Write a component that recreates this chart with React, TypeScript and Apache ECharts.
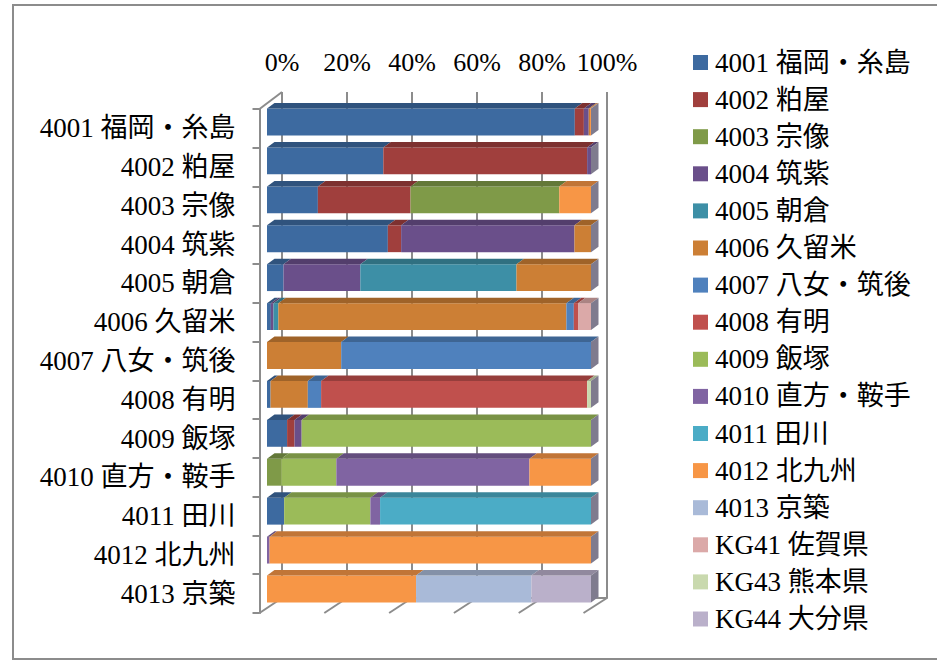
import React, { useEffect, useRef } from "react";
import * as echarts from "echarts";

const categories = [
  "4001 福岡・糸島", "4002 粕屋", "4003 宗像", "4004 筑紫", "4005 朝倉",
  "4006 久留米", "4007 八女・筑後", "4008 有明", "4009 飯塚",
  "4010 直方・鞍手", "4011 田川", "4012 北九州", "4013 京築",
];
const seriesNames = [...categories, "KG41 佐賀県", "KG43 熊本県", "KG44 大分県"];
const xTickLabels = ["0%", "20%", "40%", "60%", "80%", "100%"];

// values (%) per category, top to bottom
const s4001 = [95.0, 35.9, 15.7, 37.3, 5.1, 1.2, 0, 1.1, 6.2, 0, 5.3, 0, 0];
const s4002 = [2.8, 62.9, 28.6, 4.1, 0, 0, 0, 0, 2.3, 0, 0, 0, 0];
const s4003 = [0, 0, 45.9, 0, 0, 0, 0, 0, 0, 4.4, 0, 0, 0];
const s4004 = [1.5, 1.2, 0, 53.5, 23.7, 0.8, 0, 0, 2.2, 0, 0, 0, 0];
const s4005 = [0, 0, 0, 0, 48.2, 1.5, 0, 0, 0, 0, 0, 0, 0];
const s4006 = [0.4, 0, 0, 5.1, 23.0, 88.9, 22.9, 11.5, 0, 0, 0, 0, 0];
const s4007 = [0, 0, 0, 0, 0, 2.3, 77.1, 4.1, 0, 0, 0, 0, 0];
const s4008 = [0, 0, 0, 0, 0, 1.3, 0, 82.1, 0, 0, 0, 0, 0];
const s4009 = [0, 0, 0, 0, 0, 0, 0, 0, 89.3, 17.0, 26.6, 0, 0];
const s4010 = [0, 0, 0, 0, 0, 0, 0, 0, 0, 59.6, 3.0, 0.8, 0];
const s4011 = [0, 0, 0, 0, 0, 0, 0, 0, 0, 0, 65.1, 0, 0];
const s4012 = [0.3, 0, 9.8, 0, 0, 0, 0, 0, 0, 19.0, 0, 99.2, 46.0];
const s4013 = [0, 0, 0, 0, 0, 0, 0, 0, 0, 0, 0, 0, 35.6];
const sKG41 = [0, 0, 0, 0, 0, 4.0, 0, 0, 0, 0, 0, 0, 0];
const sKG43 = [0, 0, 0, 0, 0, 0, 0, 1.2, 0, 0, 0, 0, 0];
const sKG44 = [0, 0, 0, 0, 0, 0, 0, 0, 0, 0, 0, 0, 18.4];

const seriesValues = [
  s4001, s4002, s4003, s4004, s4005, s4006, s4007, s4008,
  s4009, s4010, s4011, s4012, s4013, sKG41, sKG43, sKG44,
];
const seriesColors = [
  "#3d6aa0", "#a03f3d", "#7f9a48", "#6a4f8a", "#3d8fa6", "#cc7f35",
  "#4f81bd", "#c0504d", "#9bbb59", "#8064a2", "#4bacc6", "#f79646",
  "#a9bad8", "#dba9a8", "#c9d9ae", "#bab0ca",
];

const FONT = '"Liberation Serif", "Noto Sans CJK JP", serif';
const GRAY = "#8c8c8c";
const FRONT = { left: 267, top: 102.5, width: 324, height: 506 };
const WALL = { left: 259.5, top: 109, width: 324, height: 504 };
const BACK = { left: 282, top: 92, width: 325, height: 506 };
const DX = 7.5;
const DY = 5.5;

function darken(hex: string, f: number) {
  const n = parseInt(hex.slice(1), 16);
  const r = Math.round(((n >> 16) & 255) * f);
  const g = Math.round(((n >> 8) & 255) * f);
  const b = Math.round((n & 255) * f);
  return `rgb(${r},${g},${b})`;
}

export default function App() {
  const ref = useRef<HTMLDivElement>(null);
  useEffect(() => {
    if (!ref.current) return;
    const chart = echarts.init(ref.current, undefined, { renderer: "svg" });
    const cum = categories.map(() => 0);
    const series = seriesValues.map((vals, si) => {
      const data: number[][] = [];
      vals.forEach((v, ci) => {
        const start = cum[ci];
        const end = start + v;
        cum[ci] = end;
        if (v > 0) data.push([start, end, ci, v]);
      });
      const color = seriesColors[si];
      return {
        type: "custom",
        name: seriesNames[si],
        xAxisIndex: 0,
        yAxisIndex: 0,
        itemStyle: { color },
        encode: { x: [0, 1], y: 2 },
        data,
        renderItem: (_p: any, api: any) => {
          const start = api.value(0);
          const end = api.value(1);
          const cat = api.value(2);
          const p0 = api.coord([start, cat]);
          const p1 = api.coord([end, cat]);
          const h = api.size([0, 1])[1] * 0.69;
          const x0 = p0[0];
          const x1 = p1[0];
          const yt = p0[1] - h / 2;
          const yb = p0[1] + h / 2;
          const children: any[] = [
            { type: "rect", shape: { x: x0, y: yt, width: x1 - x0, height: h }, style: { fill: color } },
            {
              type: "polygon",
              shape: { points: [[x0, yt], [x1, yt], [x1 + DX, yt - DY], [x0 + DX, yt - DY]] },
              style: { fill: darken(color, 0.78) },
            },
          ];
          if (end >= 99.9) {
            children.push({
              type: "polygon",
              shape: { points: [[x1, yt], [x1 + DX, yt - DY], [x1 + DX, yb - DY], [x1, yb]] },
              style: { fill: "#7f7b8e" },
            });
          }
          return { type: "group", children };
        },
      };
    });

    const floorLines: any[] = [];
    for (let k = 0; k <= 5; k++) {
      floorLines.push({
        type: "line",
        shape: {
          x1: WALL.left + (k * WALL.width) / 5,
          y1: WALL.top + WALL.height,
          x2: BACK.left + (k * BACK.width) / 5,
          y2: BACK.top + BACK.height,
        },
        style: { stroke: GRAY, lineWidth: 2 },
        z: -1,
      });
    }

    chart.setOption({
      animation: false,
      backgroundColor: "#fff",
      textStyle: { fontFamily: FONT },
      graphic: [
        {
          type: "rect",
          shape: { x: 13, y: 5, width: 960, height: 654 },
          style: { fill: "none", stroke: GRAY, lineWidth: 2 },
          z: -2,
        },
        {
          type: "line",
          shape: { x1: WALL.left, y1: WALL.top, x2: BACK.left, y2: BACK.top },
          style: { stroke: GRAY, lineWidth: 2 },
          z: -1,
        },
        ...floorLines,
      ],
      legend: {
        orient: "vertical",
        left: 693,
        top: 45.5,
        padding: 0,
        itemWidth: 15,
        itemHeight: 15,
        itemGap: 3.1,
        icon: "rect",
        data: seriesNames,
        textStyle: { fontSize: 27, color: "#000", fontFamily: FONT, lineHeight: 26, padding: [0, 0, 8, 2] },
      },
      grid: [
        { ...FRONT, containLabel: false },
        { ...WALL, containLabel: false },
        { ...BACK, containLabel: false },
      ],
      xAxis: [
        { type: "value", gridIndex: 0, min: 0, max: 100, show: false },
        { type: "value", gridIndex: 1, min: 0, max: 100, show: false },
        {
          type: "value",
          gridIndex: 2,
          min: 0,
          max: 100,
          interval: 20,
          position: "top",
          axisLine: { show: true, lineStyle: { color: GRAY, width: 2 } },
          axisTick: { show: true, length: 9, lineStyle: { color: GRAY, width: 2 } },
          splitLine: { show: true, lineStyle: { color: GRAY, width: 2 } },
          axisLabel: {
            margin: 17,
            fontSize: 26,
            color: "#000",
            fontFamily: FONT,
            formatter: (v: number) => xTickLabels[Math.round(v / 20)],
          },
        },
      ],
      yAxis: [
        { type: "category", gridIndex: 0, inverse: true, data: categories, show: false },
        {
          type: "category",
          gridIndex: 1,
          inverse: true,
          data: categories,
          axisLine: { show: true, lineStyle: { color: GRAY, width: 2 } },
          axisTick: { show: true, length: 7, lineStyle: { color: GRAY, width: 2 } },
          axisLabel: { margin: 24, fontSize: 27, color: "#000", fontFamily: FONT, padding: [7, 0, 0, 0] },
        },
        { type: "value", gridIndex: 2, show: false },
      ],
      series,
    });
    return () => chart.dispose();
  }, []);
  return (
    <div
      ref={ref}
      style={{ position: "fixed", left: 0, top: 0, width: 937, height: 661 }}
    />
  );
}
